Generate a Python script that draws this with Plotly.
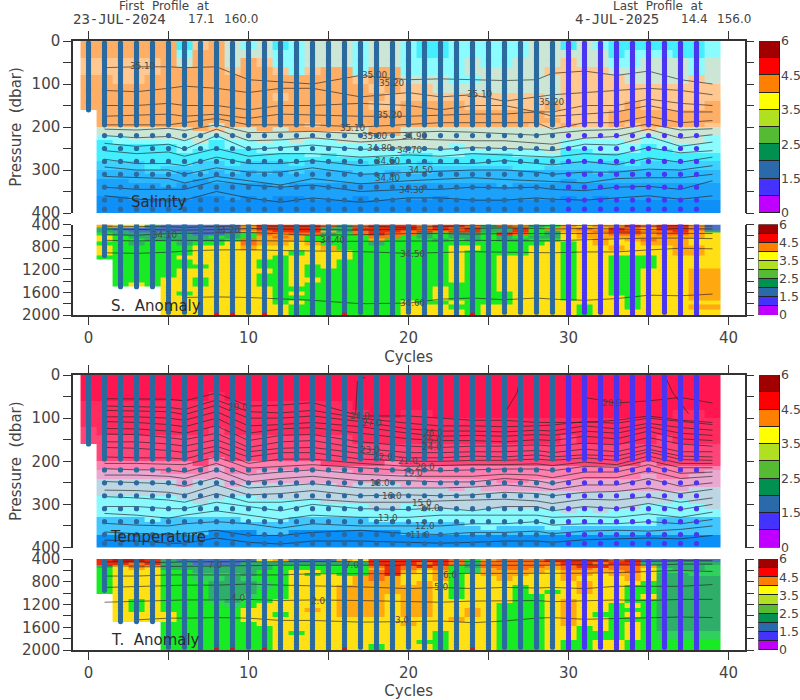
import plotly.graph_objects as go

CYCLES = list(range(40))
TICK_X = [0, 5, 10, 15, 20, 25, 30, 35, 40]
KNOTS = [1, 3, 5, 6, 8, 10, 12, 14, 17, 20, 22, 24, 26, 28, 29, 31, 33, 35, 37, 39]

# ---- level fields, one character per cycle (0..39); "." = no data
SAL_EDGES = [0, 20, 40, 60, 80, 100, 120, 140, 160, 180, 190, 200, 210, 220, 230, 240, 250, 260, 270, 280,
             290, 300, 310, 320, 330, 340, 350, 360, 370, 380, 390, 400]
SAL_KEYS = "abcdefghi"
SAL_COLS = ["#0e90f8", "#1da2fc", "#2cb8ff", "#3ed0ff", "#45eeff", "#8afbff", "#cbe6d5", "#ffc890", "#ffae66"]
SAL_ROWS = [
    "iiiii iehig fgefg ggfgg feeff fffgg egfee eeeef",
    "iiiii ifiig ggffg ggfgg feeff fffgg gggef ffeef",
    "hhhhh igiig ihffg ggfgg ffffg ffggg hggff gggfg",
    "hhhhh iiiih iihfh iifii ffffg ggggh hhhgg gggfg",
    "iihhi iiiii iiiii iihii gggff ggggg hhhhg ggghg",
    "iiiii iiiii iiiii iiihi hhggg ggggg hhhhh hhhhh",
    "iiiii iiiii iihii iiiih hhhhh hhhhg hhhhh hhhhh",
    "iiiii iiiii iiiii iiihh iiiih hhhhi hhhhi hhhhi",
    ".iiii iiiii iiiii iiiii iiiii iiiih hhhii iiiii",
    ".iiii iiiii iiiii iiiii iiiii iiiii hhhii iiiii",
    ".iiii iiigi iiiih iiiii iiiii iiihh ihhih iiiih",
    ".gggg ggihg gigii iigii ggggg ggggg ggggg hgggg",
    ".gggg ggggg ggggg gggii ggggg ggggg ggggg ggggg",
    ".ffgg gggfg ggggg ggggg ggggg ggggg ggggg fgggf",
    ".efff ffgef fgfgf fgggg ggggg ggggg ffffg ffggf",
    ".eeee effef fffff ffffg gggfg ggggg fffff effff",
    ".eeee efeee effff fffff fffff ffffg eefff eefff",
    ".eeee eeeee eeeef effff eeffe eefff eeeee eeeee",
    ".eeee eeeee eeeee eeeee eeeee eeeee eeeee eeeee",
    ".ddde eedde ddded dddee edeee eeeee dddde ddddd",
    ".ddde ddddd ddddd ddddd ddddd ddeed ddddd ddddd",
    ".cccd dcdcd cdcdc ccddc ddccc ccccc ccdcc ccccc",
    ".cccc ccccc ccccc ccccc ccccc ccccc ccccc ccccc",
    ".bbcc ccbcc ccccc ccccc ccccc ccccc bcccc ccccc",
    ".bbbb cbbbb bbcbb bbbbb bbbbb bcbbb bbbbb bbbbb",
    ".bbbb bbbbb bbbbb bbbbb bbbbb bbbbb bbbbb bbbbb",
    ".bbbb bbbbb bbbbb bbbbb bbbbb bbbbb bbbbb bbbbb",
    ".aabb bbaab abaab bbabb bbabb bbbbb ababb bbbbb",
    ".aaaa aaaaa aaaaa aaaaa aaaaa aaaaa aaaaa aaaaa",
    ".aaaa aaaaa aaaaa aaaaa aaaaa aaaaa aaaaa aaaaa",
    ".aaaa aaaaa aaaaa aaaaa aaaaa aaaaa aaaaa aaaaa",
]

TEMP_KEYS = "ABCDEFGHI"
TEMP_COLS = ["#ff1650", "#ff2a5e", "#ff4478", "#ff80ae", "#e8a8d0", "#bcd6e4", "#88faff", "#41c6ff", "#0a8ef8"]
TEMP_ROWS = [
    "AAAAA AAAAA AAAAA AAAAA AAAAA AAAAA AAAAA AAAAA",
    "AAAAA AAAAA AAAAA AAAAA AAAAA AAAAA AAAAA AAAAA",
    "AAAAA AAABA AAAAA AAAAA AAAAA AAAAA AAAAA AAAAA",
    "BBBBB BBBBB BBBBB BBAAA AAAAA AAAAA AAAAA AAAAA",
    "BBBBB BBBBB BBBBB BBBAA BBAAA AAAAA AAAAA AABBA",
    "BBBBB BBBBB BBBBB BBBBB BBBBB BBBBB BBBBB BBBBB",
    "CBBBB BBBCB BBBBB BBBBB BBBBB BBBBB BBBBB BBBBB",
    "CCCCC CCCCC CCCCC CCBBB BBBBB BBBBB CBBBB BCBBB",
    ".CCCC CCCCC CCCCC CCCCC CCCCC CCCCC CCCCC CCCCC",
    ".CCCC CCCCC CCCCC CCCCC CCCCC CCCCC CCCCC CCCCC",
    ".CCCC CCCDC CCCCC CCCCC CCCCC CCCCC CCCCC CCCCC",
    ".DDDD DDCDD DDDDD CCCCD CCCCC CCCCC CCCCC DCCCC",
    ".DDDD DDDED DDDDD DDDDD DDDDD DDDDD DDDDD DDDDD",
    ".EEEE DDDED DEEEE EEDDD DDDDD DDDDD DDDDD DDDDE",
    ".EEEE EEEEE EEEEE EEEEE EDDDD DDDDD DDDDD EDDEE",
    ".FFFF FEFFE EEEEE EEEEE EEEEE EDDEE EEEEE EEEEE",
    ".FFFF FEFFE FFFFF FEFFF EEEEE EEEEE EEEEE EEEEE",
    ".FFFF FFFFF FFFFF FFFFF FFFEF EEEEE EEEEE EEEFF",
    ".FFFF FFFFF FFFFF FFFFF FFFFF FFFFF FFFFF FFFFF",
    ".GGGG GFFFG GFFFF FFFFF FFFFF FFFFF FFFFF FFFFF",
    ".GGGG GGFGG GGGGG FFFFF FFFFF FFFFF FFFFF FFGFF",
    ".GGGG GGGGG GGGGG GGGFF GFFFF FFFFF FFFFF GGGGF",
    ".GGGG GGGGG GGGGG GGGGG GGGGG GGGGG FGFGG GGGGG",
    ".GGGG GGGGG GGGGG GGGGG GGGGG GGGGG GGGGG GGGGG",
    ".HHHG HHHHH GGGHH HHHGG GGGGG GGGGG GGGGG GHHHH",
    ".HHHH HHHHH HHHHH HHHHH HHHHG GGGGG GGGGG GHHHH",
    ".HHHH HHHHH HHHHH HHHHH HHHHH GHHHG HHHHH HHHHH",
    ".HHHH HHHII IHHII IIIII HHHHH HHHHH HHHHH HHHHH",
    ".IIII IIIII IIIII IIIII IIIII IIIII IIIII IIIII",
    ".IIII IIIII IIIII IIIII IIIII IIIII IIIII IIIII",
    ".IIII IIIII IIIII IIIII IIIII IIIII IIIII IIIII",
]

ANOM_EDGES = [400, 450, 500, 550, 600, 650, 700, 780, 860, 940, 1020, 1100, 1180, 1260, 1340, 1420,
              1500, 1580, 1660, 1740, 1820, 1900, 2000]
ANOM_KEYS = "ategyodrm"
ANOM_COLS = ["#4a72c8", "#2eae68", "#30d05c", "#18ea24", "#ffe014", "#ffa810", "#ff7012", "#f02a0a", "#c01a10"]
SAN_ROWS = [
    ".oyyt aaaaa orrrr dtdrr rdrrd tdotg oyoor drroa",
    ".taaa aaaaa drrrr ttrrr rdrdr ttrgo odord orrda",
    ".ttaa aaaaa odrrr otdrr drdrr ttrgt oodrr ddrot",
    ".gttt ttaat gdodd tgdrd dtgtt grdgt yoodd oddoy",
    ".ygtt tttgt godog gggdd gtgtt gtgtt yoooo ooooy",
    ".yggt ttttg dooog gggog ggtgt gttgg yyoyo dooyy",
    ".ggtg gtggy dooyo gggtg ggggg ggggy gyoyy oooyy",
    ".yggg ggyyy oyyyy ogggg gggyy gggyy gyyoy yyooy",
    ".yggg ggyyy yyygy yyggg gggyg gggyy gyyyy yyooy",
    ".gggg gyyyy yygyy yyggg gggyg gyyyy gyygg gyyyy",
    "..ggg ggyyy yggyy ygggg gggyg gyyyy gyygg gyyyy",
    "..ggg gggyy yggyg ygggg gggyg gyyyy gyygg gyyyy",
    "..ggg gyyyy yygyg ggggg gggyg gyyyy gyygg yyyoo",
    "..ggg gyyyy yggyg ggggg gggyg gyyyy gyygg yyyoo",
    "..ggg yygyy yggyy ggggg gggyg gyyyy gyygg yyyoo",
    "..gyg yygyy yggyg ggggg ggggg gyyyy gyygg yyyoo",
    "..... yyyyy yyggg ggggg ggygg gyyyy gyygg yyyoo",
    "..... ygyyy yygyg ggggg ggygg ggyyy gyygg yyyoo",
    "..... yyyyy yyggg ggggg ggygg ggyyy gyyyg yyyoo",
    "..... yyyyy yygyg ggggg yggyg ggyyy yyyyg yyyyy",
    "..... yyyyy yyygg ggggg yyygg yyyyy ygyyg yyyoo",
    "..... yyyyy yyygg ggggg yyyyg yyyyy ygyyy yyyyy",
]
TAN_ROWS = [
    ".rmmr taaaa ayoaa aoyrr rrrdg odddr rrrdr aaaaa",
    ".rrdr ttaaa ttttt tttrr rdrdt ddddd rrdrr ttttt",
    ".tydo ttttt ttggg gggdr drdgt ddddo drrdd ottte",
    ".gyoy ttttt ttggg gggor dodge oddoo ddodd yette",
    ".gyyy ggttt tggyy gggdr oyoge ooooy ooood yeeee",
    ".gyyy ggeee tggyg yggdr yyogy oooyy ooyoo yttee",
    ".gyyy ggeet eggyy yyodo yyogy yoyyy oyyyo ytttt",
    ".gyyy gggtt tegyy yyooo yoygy yyyyy yoyyy gtttt",
    ".gyyy gggtt tegyy yoooo ooygy yygyy yoyyg gtttt",
    ".gyyy gggtt tggyy yoooo ooygy yygyg yoyyg gtttt",
    "..yyy gggtt eggyy yoooy ooygy yyggy yyyyg ytttt",
    "..ygy ggget ggyyy yoooy ooyyy yyggy oyyyg gtttt",
    "..ygy gggge gyyyy yoooy ooyyy ygggy oyygy gtttt",
    "..ygy ggggg yyyyo yoooy ooyyo ygggy oyygg gtttt",
    "..yyy ygggg yygyy yoooy ooyyo ygggy oyggy gtttt",
    "..yyy ygggg yyyyy yyyyy yyyoy ygggy oyygg gtttt",
    "..... ggggg gyyyy yyyyy oyyyy ygggy oyygy gtttt",
    "..... ggggg ggyyy yyyyy yyyyy ygggy ygygy gtttt",
    "..... ggggg ggygy yyyyy yygyy ygggy ygggy geeee",
    "..... ggggg ggyyy yyyyy yygyy ygggy ygggy geeee",
    "..... ggggg ggyyy yyyyy yggyy ygggy ggyyg ggggg",
    "..... ggggg ggyyy yyygy yygyy ygggy ggyyg ggggg",
]

# ---- isoline depths at KNOTS
SAL_LINES = [
    [62, 60, 60, 62, 60, 90, 95, 100, 80, 90, 88, 90, 92, 90, 75, 70, 80, 70, 90, 100],
    [115, 118, 110, 105, 110, 120, 110, 110, 130, 120, 130, 125, 140, 130, 125, 120, 115, 110, 115, 125],
    [150, 150, 145, 150, 150, 160, 150, 150, 145, 150, 160, 150, 150, 165, 165, 150, 150, 135, 145, 150],
    [175, 172, 170, 175, 170, 180, 170, 172, 175, 175, 172, 170, 170, 165, 175, 170, 165, 150, 165, 165],
    [195, 195, 195, 190, 180, 195, 195, 195, 200, 195, 190, 190, 190, 190, 205, 190, 190, 175, 190, 185],
    [205, 207, 203, 208, 195, 213, 212, 210, 216, 212, 210, 212, 215, 219, 215, 208, 206, 193, 207, 204],
    [220, 225, 222, 232, 205, 232, 230, 225, 235, 228, 230, 232, 232, 238, 240, 226, 222, 205, 226, 218],
    [238, 245, 240, 252, 220, 252, 248, 242, 252, 248, 252, 248, 250, 252, 255, 240, 242, 222, 245, 235],
    [255, 262, 258, 268, 250, 268, 262, 262, 270, 265, 268, 262, 265, 268, 270, 262, 265, 248, 260, 255],
    [275, 285, 285, 290, 270, 285, 285, 278, 290, 285, 285, 285, 278, 285, 288, 280, 288, 272, 282, 270],
    [293, 300, 300, 310, 295, 305, 305, 295, 310, 305, 302, 300, 300, 305, 310, 305, 305, 298, 300, 290],
    [315, 318, 320, 330, 315, 325, 335, 320, 332, 325, 322, 318, 322, 325, 328, 330, 320, 318, 318, 310],
    [340, 345, 345, 345, 325, 335, 340, 335, 350, 345, 345, 340, 342, 340, 345, 348, 340, 338, 345, 325],
    [360, 368, 370, 370, 350, 365, 375, 365, 375, 365, 365, 370, 370, 365, 368, 370, 365, 360, 368, 360],
]
TEMP_LINES = [
    [55, 55, 56, 60, 42, 72, 70, 64, 95, 95, 100, 105, 105, 110, 110, 110, 105, 95, 105, 110],
    [None, None, None, None, None, None, None, None, None, None, None, None, None, None, None, 52, 65, 60, 52, 65],
    [72, 74, 75, 80, 58, 85, 88, 82, 100, 112, 118, 118, 120, 118, 116, 108, 112, 100, 108, 115],
    [82, 84, 85, 92, 70, 100, 100, 95, 108, 125, 130, 130, 132, 128, 130, 118, 125, 112, 122, 128],
    [97, 97, 100, 105, 85, 118, 115, 110, 120, 135, 142, 140, 142, 138, 140, 130, 135, 120, 135, 140],
    [108, 110, 115, 120, 100, 135, 125, 122, 135, 148, 152, 152, 155, 150, 152, 142, 148, 130, 148, 152],
    [124, 125, 130, 135, 118, 152, 140, 138, 155, 165, 168, 165, 165, 162, 165, 158, 162, 145, 160, 165],
    [137, 138, 145, 150, 135, 168, 155, 152, 170, 180, 180, 178, 178, 175, 180, 172, 178, 162, 178, 178],
    [155, 155, 160, 165, 150, 178, 170, 168, 182, 192, 192, 188, 190, 185, 190, 185, 188, 172, 188, 190],
    [168, 170, 175, 180, 165, 190, 180, 180, 195, 200, 200, 198, 198, 195, 198, 192, 198, 178, 196, 198],
    [190, 192, 192, 195, 175, 205, 195, 195, 205, 212, 210, 208, 208, 206, 210, 202, 208, 188, 205, 205],
    [205, 205, 207, 208, 190, 216, 212, 208, 215, 222, 222, 220, 218, 218, 222, 212, 214, 198, 215, 215],
    [217, 220, 220, 225, 205, 232, 225, 220, 230, 235, 235, 235, 230, 232, 238, 225, 225, 208, 228, 225],
    [232, 232, 235, 240, 220, 248, 240, 235, 245, 245, 248, 248, 240, 245, 252, 238, 238, 222, 240, 235],
    [247, 250, 252, 258, 238, 262, 258, 252, 262, 262, 262, 260, 255, 260, 266, 255, 255, 240, 258, 250],
    [267, 268, 272, 278, 255, 278, 275, 268, 280, 278, 280, 278, 272, 275, 280, 272, 270, 262, 275, 265],
    [282, 285, 290, 295, 275, 295, 295, 288, 295, 295, 292, 290, 288, 292, 298, 288, 290, 282, 295, 285],
    [305, 305, 310, 310, 295, 305, 315, 300, 310, 312, 308, 315, 305, 305, 315, 305, 310, 298, 312, 300],
    [321, 325, 332, 325, 315, 325, 335, 325, 330, 330, 325, 325, 325, 325, 330, 328, 330, 322, 330, 318],
    [344, 348, 350, 345, 340, 345, 355, 345, 350, 350, 350, 345, 345, 340, 348, 345, 345, 340, 345, 335],
    [364, 368, 370, 368, 360, 372, 372, 365, 360, 368, 370, 365, 365, 362, 368, 362, 360, 362, 358, 350],
    [383, 385, 390, 390, 378, 388, 392, 385, 385, 388, 390, 388, 385, 385, 388, 382, 380, 378, 380, 372],
]
SAN_LINES = [
    [430, 430, 440, 450, 430, 420, 430, 430, 430, 450, 430, 420, 430, 420, 420, 420, 430, 430, 420, 430],
    [480, 490, 500, 500, 490, 470, 480, 490, 500, 480, 490, 470, 460, 470, 480, 470, 480, 490, 470, 480],
    [580, 590, 560, 560, 550, 540, 560, 590, 580, 560, 560, 570, 560, 560, 570, 560, 550, 550, 550, 560],
    [680, 690, 680, 680, 690, 680, 690, 700, 700, 690, 690, 680, 680, 690, 690, 670, 650, 640, 640, 650],
    [900, 910, 890, 870, 850, 845, 860, 870, 880, 910, 900, 880, 890, 900, 900, 885, 885, 850, 820, 830],
    [None, None, None, 1690, 1680, 1690, 1710, 1740, 1800, 1790, 1720, 1700, 1730, 1700, 1720, 1740, 1710, 1650, 1660, 1630],
]
TAN_LINES = [
    [450, 460, 460, 450, 450, 440, 440, 440, 440, 450, 450, 450, 450, 440, 440, 430, 440, 440, 430, 430],
    [520, 530, 530, 530, 520, 510, 510, 510, 510, 520, 510, 520, 520, 510, 510, 500, 500, 510, 490, 490],
    [700, 700, 680, 680, 690, 680, 680, 660, 660, 660, 650, 650, 650, 650, 660, 650, 640, 620, 600, 620],
    [900, 880, 870, 860, 860, 840, 860, 870, 890, 920, 900, 920, 900, 910, 900, 920, 880, 880, 880, 850],
    [1160, 1140, 1130, 1120, 1120, 1110, 1130, 1120, 1130, 1150, 1160, 1140, 1130, 1130, 1150, 1130, 1120, 1130, 1110, 1110],
    [None, 1470, 1440, 1440, 1430, 1440, 1480, 1480, 1510, 1500, 1490, 1520, 1490, 1440, 1430, 1460, 1450, 1430, 1420, 1430],
]

# ---- profiles
UPPER_PRES = [5, 10, 15, 20, 25, 30, 35, 40, 45, 50, 55, 60, 65, 70, 75, 80, 85, 90, 95, 100, 105, 110, 115,
              120, 125, 130, 135, 140, 145, 150, 155, 160, 165, 170, 175, 180, 185, 190, 195,
              220, 250, 280, 310, 340, 370, 391]
LOWER_PRES = [400, 450, 500, 550, 600, 650, 700, 750, 800, 850, 900, 950, 1000, 1050, 1100, 1150, 1200, 1250,
              1300, 1350, 1400, 1450, 1500, 1550, 1600, 1650, 1700, 1750, 1800, 1850, 1900, 1950, 2000]
UPPER_MAX = [160] + [391] * 38
LOWER_MAX = [None, 950, 1500, 1500, 1500, 1950, 1950, 2000, 2000, 2000, 1950, 2000, 2000, 2000, 2000, 2000, 2000,
             1950, 2000, 2000, 1950, 2000, 2000, 2000, 2000, 2000, 1950, 1950, 1950, 1950, 2000, 1950, 1950,
             2000, 2000, 2000, 1950, 2000, 2000]
RED_END_CYCLES = [8, 9, 11, 16, 24]
BLUE = "#2b6a9f"
INDIGO = "#4a35f0"

# ---- colour key
KEY_COLS = ["#c000ff", "#4433ff", "#2a6aaa", "#009050", "#55bb33", "#b0e020", "#ffff00", "#ff8000", "#ff0000", "#a00000"]
KEY_UNITS = [1, 1, 1, 1, 1, 1, 1, 1, 1, 1]
KEY_TICKS = [0, 2, 4, 6, 8, 10]
KEY_TEXT = ["0", "1.5", "2.5", "3.5", "4.5", "6"]

# ---- text
NB = "\u00a0"
HEADER_WORDS = [(f"First{NB}{NB}Profile{NB}{NB}at", 119, 6), ("17.1", 188, 19), ("160.0", 224, 19),
                (f"Last{NB}{NB}Profile{NB}{NB}at", 613, 6), ("14.4", 681, 19), ("156.0", 717, 19)]
HEADER_DATES = [("23-JUL-2024", 73, 19), ("4-JUL-2025", 575, 19)]
TITLES = [("Salinity", 131, 202), ("S.\u00a0\u00a0Anomaly", 111, 306), ("Temperature", 110, 537), ("T.\u00a0\u00a0Anomaly", 111, 640)]
CONTOUR_LABELS = [
    ("35.10", 143, 66), ("35.00", 375, 75), ("35.20", 392, 83), ("35.20", 390, 115), ("35.10", 353, 128),
    ("35.00", 375, 136), ("34.90", 415, 136), ("34.80", 380, 148), ("34.70", 410, 150), ("34.60", 388, 161),
    ("34.50", 421, 170), ("34.40", 388, 178), ("34.30", 412, 190), ("35.10", 480, 94), ("35.20", 552, 102),
    ("34.10", 165, 235), ("34.20", 228, 230), ("34.40", 333, 240), ("34.50", 413, 254), ("34.60", 413, 303),
    ("29.0", 238, 407), ("28.0", 360, 416), ("27.0", 372, 423), ("23.0", 370, 450), ("22.0", 383, 457),
    ("18.0", 380, 483), ("16.0", 392, 496), ("13.0", 388, 518), ("28.0", 612, 403), ("26.0", 433, 433),
    ("25.0", 432, 440), ("24.0", 432, 447), ("21.0", 408, 461), ("20.0", 425, 467), ("19.0", 413, 473),
    ("15.0", 422, 503), ("14.0", 430, 508), ("12.0", 425, 526), ("11.0", 420, 535),
    ("7.0", 215, 565), ("4.0", 238, 598), ("2.0", 318, 601), ("7.0", 352, 565), ("6.0", 450, 575),
    ("5.0", 441, 587), ("3.0", 402, 620),
]

# ---- geometry (pixels in the 800x700 page)
W, H = 800, 700
FONT = "DejaVu Sans"
INK = "#444444"
PANELS = [
    dict(top=41, bot=213, rng=[400, 0], major=[0, 100, 200, 300, 400], step=[0, 50, 100, 150, 200, 250, 300, 350, 400]),
    dict(top=224.5, bot=315, rng=[2000, 400], major=[400, 800, 1200, 1600, 2000],
         step=[400, 600, 800, 1000, 1200, 1400, 1600, 1800, 2000]),
    dict(top=375, bot=547.5, rng=[400, 0], major=[0, 100, 200, 300, 400], step=[0, 50, 100, 150, 200, 250, 300, 350, 400]),
    dict(top=559, bot=650, rng=[2000, 400], major=[400, 800, 1200, 1600, 2000],
         step=[400, 600, 800, 1000, 1200, 1400, 1600, 1800, 2000]),
]


def decode(rows, keys):
    out = []
    for row in rows:
        s = row.replace(" ", "")
        s = (s + s[-1] * 40)[:40]
        out.append([None if ch == "." else keys.index(ch) + 0.5 for ch in s])
    return out


def stepped(cols):
    n = len(cols)
    scale = []
    for i, c in enumerate(cols):
        scale += [[i / n, c], [(i + 1) / n, c]]
    return scale


fig = go.Figure()


def field(rows, keys, cols, edges, idx):
    fig.add_trace(go.Heatmap(x=CYCLES, y=edges, z=decode(rows, keys), colorscale=stepped(cols), zmin=0, zmax=len(cols),
                             showscale=False, hoverinfo="skip", xaxis=f"x{idx}", yaxis=f"y{idx}"))


def lines(arrays, idx):
    for depths in arrays:
        fig.add_trace(go.Scatter(x=KNOTS, y=depths, mode="lines", line=dict(color="rgba(35,35,35,0.72)", width=0.9),
                                 hoverinfo="skip", xaxis=f"x{idx}", yaxis=f"y{idx}", showlegend=False))


def profiles(idx, pres, limits):
    for first, last, colour in [(0, 29, BLUE), (30, 38, INDIGO)]:
        xs, ys = [], []
        for c in range(first, last + 1):
            if limits[c] is None:
                continue
            for p in pres:
                if p <= limits[c]:
                    xs.append(c)
                    ys.append(p)
        fig.add_trace(go.Scatter(x=xs, y=ys, mode="markers", marker=dict(color=colour, size=5.2, line=dict(width=0)),
                                 hoverinfo="skip", xaxis=f"x{idx}", yaxis=f"y{idx}", showlegend=False))


field(SAL_ROWS, SAL_KEYS, SAL_COLS, SAL_EDGES, 1)
lines(SAL_LINES, 1)
profiles(1, UPPER_PRES, UPPER_MAX)
field(SAN_ROWS, ANOM_KEYS, ANOM_COLS, ANOM_EDGES, 2)
lines(SAN_LINES, 2)
profiles(2, LOWER_PRES, LOWER_MAX)
fig.add_trace(go.Scatter(x=RED_END_CYCLES, y=[2000] * 5, mode="markers", marker=dict(color="#e81010", size=5.2),
                         hoverinfo="skip", xaxis="x2", yaxis="y2", showlegend=False))
field(TEMP_ROWS, TEMP_KEYS, TEMP_COLS, SAL_EDGES, 3)
lines(TEMP_LINES, 3)
fig.add_trace(go.Scatter(x=[16.7, 16.8, 17.3], y=[90, 15, 5], mode="lines", line=dict(color="rgba(35,35,35,0.72)", width=0.9),
                         hoverinfo="skip", xaxis="x3", yaxis="y3", showlegend=False))
fig.add_trace(go.Scatter(x=[25.9, 26.8, 27], y=[95, 40, 0], mode="lines", line=dict(color="rgba(35,35,35,0.72)", width=0.9),
                         hoverinfo="skip", xaxis="x3", yaxis="y3", showlegend=False))
fig.add_trace(go.Scatter(x=[36, 36.5, 37.5], y=[0, 40, 90], mode="lines", line=dict(color="rgba(35,35,35,0.72)", width=0.9),
                         hoverinfo="skip", xaxis="x3", yaxis="y3", showlegend=False))
profiles(3, UPPER_PRES, UPPER_MAX)
field(TAN_ROWS, ANOM_KEYS, ANOM_COLS, ANOM_EDGES, 4)
lines(TAN_LINES, 4)
profiles(4, LOWER_PRES, LOWER_MAX)
fig.add_trace(go.Scatter(x=RED_END_CYCLES, y=[2000] * 5, mode="markers", marker=dict(color="#e81010", size=5.2),
                         hoverinfo="skip", xaxis="x4", yaxis="y4", showlegend=False))

layout = dict(template="none", width=W, height=H, margin=dict(l=0, r=0, t=0, b=0, pad=0), paper_bgcolor="white",
              plot_bgcolor="white", showlegend=False, barmode="stack", bargap=0,
              font=dict(family=FONT, size=15, color=INK), annotations=[])

AX_LINE = dict(showline=True, linecolor="#333333", linewidth=1.5, showgrid=False, zeroline=False, automargin=False,
               ticks="outside", tickcolor="#333333", tickwidth=1.2, ticklen=8)
for i, p in enumerate(PANELS, start=1):
    dom_y = [1 - p["bot"] / H, 1 - p["top"] / H]
    upper = i in (1, 3)
    xa = dict(AX_LINE, domain=[73 / W, 744.5 / W], range=[-0.97, 41], anchor=f"y{i}", side="top" if upper else "bottom",
              tickmode="array", tickvals=TICK_X,
              ticktext=["" if upper or v % 10 else str(v) for v in TICK_X],
              tickfont=dict(size=15, color=INK), fixedrange=True)
    if not upper:
        xa["title"] = dict(text="Cycles", font=dict(size=15, color=INK), standoff=6)
    ya = dict(AX_LINE, domain=dom_y, range=p["rng"], anchor=f"x{i}", mirror="allticks", tickmode="array", tickvals=p["step"],
              ticktext=[str(v) if v in p["major"] else "" for v in p["step"]], tickfont=dict(size=15, color=INK),
              fixedrange=True)
    if upper:
        ya["title"] = dict(text=f"Pressure{NB}{NB}(dbar)", font=dict(size=15, color=INK), standoff=6)
    layout[f"xaxis{i}"] = xa
    layout[f"yaxis{i}"] = ya

    # colour key
    k = i + 4
    kx = [759 / W, 780 / W] if upper else [758.5 / W, 778 / W]
    fig.add_trace(go.Bar(x=[0] * 10, y=KEY_UNITS, marker=dict(color=KEY_COLS, line=dict(color="#222222", width=1)), width=1,
                         hoverinfo="skip", xaxis=f"x{k}", yaxis=f"y{k}", showlegend=False))
    layout[f"xaxis{k}"] = dict(domain=kx, range=[-0.5, 0.5], anchor=f"y{k}", showgrid=False, zeroline=False, visible=False,
                               fixedrange=True, automargin=False)
    layout[f"yaxis{k}"] = dict(domain=dom_y, range=[0, 10], anchor=f"x{k}", side="right", showgrid=False, zeroline=False,
                               tickmode="array", tickvals=KEY_TICKS, ticktext=KEY_TEXT, ticks="", ticklen=0,
                               tickfont=dict(size=12.5, color=INK), showline=False, fixedrange=True, automargin=False)


def note(text, px, py, size, anchor="left", colour=INK, family=FONT):
    layout["annotations"].append(dict(text=text, x=px / W, y=1 - py / H, xref="paper", yref="paper", showarrow=False,
                                      xanchor=anchor, yanchor="middle", borderpad=0, borderwidth=0,
                                      font=dict(size=size, color=colour, family=family)))


for t, x, y in HEADER_WORDS:
    note(t, x, y, 12, family=FONT)
for t, x, y in HEADER_DATES:
    note(t, x, y, 14, family="DejaVu Sans Mono")
for t, x, y in CONTOUR_LABELS:
    note(t, x, y, 8.8, anchor="center", colour="#4a4a4a")
for t, x, y in TITLES:
    note(t, x, y, 15, colour="#2c2c2c")

fig.update_layout(**layout)
fig.write_html("out.html", config={"displayModeBar": False}, post_script="document.body.style.margin='0';")
